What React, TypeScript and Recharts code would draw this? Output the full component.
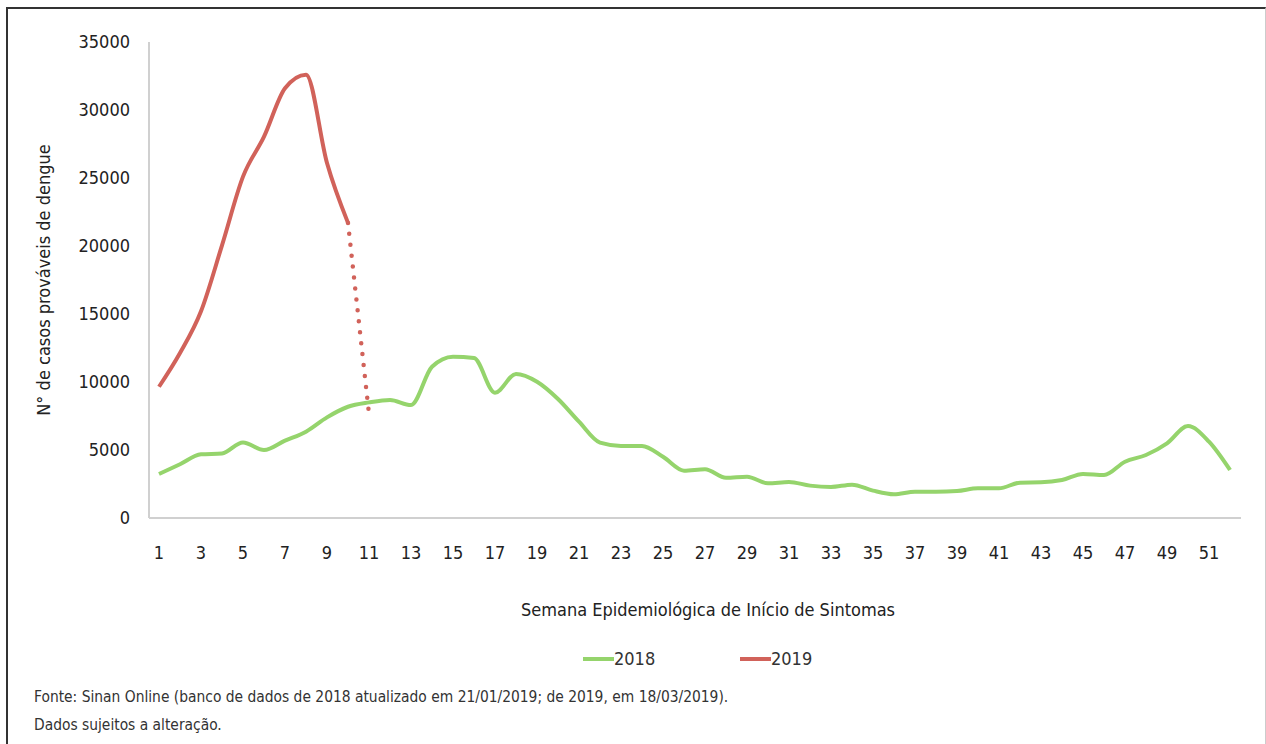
import React from 'react';
import { LineChart, Line, XAxis, YAxis, Legend } from 'recharts';

const weeks = Array.from({ length: 52 }, (_, i) => String(i + 1));

const cases2018 = [
  3235, 3950, 4680, 4750, 5560, 5000, 5690, 6350, 7400, 8180,
  8500, 8680, 8300, 11120, 11860, 11760, 9210, 10590, 10020, 8750,
  7080, 5540, 5300, 5300, 4500, 3480, 3580, 2960, 3040, 2550,
  2650, 2380, 2280, 2450, 2010, 1740, 1930, 1930, 1980, 2180,
  2180, 2600, 2620, 2790, 3235, 3160, 4140, 4630, 5490, 6760,
  5610, 3530,
];

const cases2019 = [9650, 12130, 15200, 20050, 25100, 28040, 31600, 32600, 26100, 21700];

// últimas semanas 2019 (dados incompletos, linha pontilhada)
const partialWeeks = ['10', '11'];
const partial2019 = [21700, 7650];

const yTicks = [0, 5000, 10000, 15000, 20000, 25000, 30000, 35000];

const GREEN = '#95D46C';
const RED = '#D1625A';
const FONT = "'DejaVu Sans Condensed', 'Liberation Sans Narrow', sans-serif";

const data = weeks.map((w, i) => {
  const p = partialWeeks.indexOf(w);
  return {
    week: w,
    y2018: cases2018[i],
    y2019: i < cases2019.length ? cases2019[i] : null,
    partial: p >= 0 ? partial2019[p] : null,
  };
});

function LegendContent() {
  const items = [
    { label: '2018', color: GREEN },
    { label: '2019', color: RED },
  ];
  return (
    <div style={{ display: 'flex', fontFamily: FONT, fontSize: 18, color: '#333' }}>
      {items.map((it) => (
        <div key={it.label} style={{ display: 'flex', alignItems: 'center', width: 157 }}>
          <svg width={31} height={10}>
            <line x1={0} y1={5} x2={31} y2={5} stroke={it.color} strokeWidth={4} />
          </svg>
          <span>{it.label}</span>
        </div>
      ))}
    </div>
  );
}

export default function App() {
  return (
    <div style={{ position: 'fixed', left: 0, top: 0, width: 1266, height: 744, background: '#fff' }}>
      <div
        style={{
          position: 'absolute',
          left: 6,
          top: 7,
          width: 1257,
          height: 760,
          borderTop: '2px solid #333',
          borderLeft: '2px solid #333',
          borderRight: '1px solid #ccc',
        }}
      />
      <LineChart
        width={1266}
        height={744}
        data={data}
        margin={{ top: 42, right: 25, left: 0, bottom: 126 }}
        style={{ position: 'absolute', left: 0, top: 0 }}
      >
        <XAxis
          dataKey="week"
          interval={1}
          height={100}
          padding={{ left: 10, right: 11 }}
          tickLine={false}
          tickSize={0}
          tickMargin={28}
          axisLine={{ stroke: '#d0d0d0', strokeWidth: 2 }}
          tick={{ fill: '#222', fontSize: 18, fontFamily: FONT }}
          label={{
            value: 'Semana Epidemiológica de Início de Sintomas',
            position: 'insideBottom',
            offset: 2,
            dx: 13,
            style: { fill: '#222', fontSize: 18, fontFamily: FONT },
          }}
        />
        <YAxis
          width={149}
          domain={[0, 35000]}
          ticks={yTicks}
          tickLine={false}
          tickSize={0}
          tickMargin={19}
          axisLine={{ stroke: '#d0d0d0', strokeWidth: 2 }}
          tick={{ fill: '#222', fontSize: 18, fontFamily: FONT }}
          label={{
            value: 'N° de casos prováveis de dengue',
            angle: -90,
            position: 'insideLeft',
            offset: 44,
            style: { textAnchor: 'middle', fill: '#222', fontSize: 18, fontFamily: FONT },
          }}
        />
        <Legend
          layout="horizontal"
          verticalAlign="middle"
          align="center"
          content={<LegendContent />}
          wrapperStyle={{ top: 648, left: 583, width: 320 }}
        />
        <Line
          type="monotone"
          dataKey="y2018"
          name="2018"
          stroke={GREEN}
          strokeWidth={4}
          dot={false}
          activeDot={false}
          isAnimationActive={false}
        />
        <Line
          type="monotone"
          dataKey="y2019"
          name="2019"
          stroke={RED}
          strokeWidth={4}
          dot={false}
          activeDot={false}
          connectNulls={false}
          isAnimationActive={false}
        />
        <Line
          type="linear"
          dataKey="partial"
          legendType="none"
          stroke={RED}
          strokeWidth={4.5}
          strokeLinecap="round"
          strokeDasharray="0 11"
          dot={false}
          activeDot={false}
          isAnimationActive={false}
        />
      </LineChart>
      <div
        style={{
          position: 'absolute',
          left: 34,
          top: 683,
          fontFamily: FONT,
          fontSize: 15.4,
          color: '#333',
          lineHeight: '28px',
        }}
      >
        <div>Fonte: Sinan Online (banco de dados de 2018 atualizado em 21/01/2019; de 2019, em 18/03/2019).</div>
        <div>Dados sujeitos a alteração.</div>
      </div>
    </div>
  );
}
